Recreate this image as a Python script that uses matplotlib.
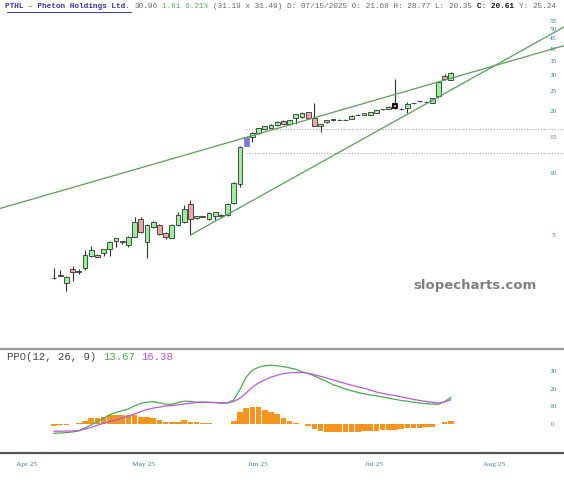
import matplotlib
matplotlib.use("Agg")
import matplotlib.pyplot as plt
import numpy as np

# --- price data (daily candles) ---
opens = [3.10, 3.20, 2.92, 3.42, 3.34, 3.46, 3.97, 4.00, 4.08, 4.28,
         4.70, 4.66, 4.50, 4.92, 6.00, 4.62, 5.45, 5.62, 5.10, 4.85,
         5.62, 5.79, 7.10, 6.04, 6.15, 6.00, 6.20, 6.25, 6.28, 7.17,
         8.90, 13.6, 14.9, 15.7, 16.3, 16.6, 17.1, 17.9, 17.4, 18.5,
         18.7, 19.7, 18.5, 16.9, 17.7, 18.0, 18.1, 18.1, 18.3, 19.2,
         19.2, 19.2, 19.6, 20.4, 20.5, 21.68, 20.5, 20.6, 21.8, 22.3,
         22.2, 22.0, 23.6, 29.6, 28.4]
highs = [3.45, 3.40, 3.18, 3.55, 3.42, 4.22, 4.42, 4.05, 4.30, 4.70,
         4.85, 4.68, 4.95, 6.13, 6.13, 5.65, 5.85, 5.65, 5.15, 5.65,
         6.50, 6.97, 7.44, 6.20, 6.22, 6.45, 6.50, 6.30, 7.15, 9.05,
         13.5, 14.9, 15.8, 16.6, 17.0, 17.3, 17.8, 18.0, 18.1, 19.4,
         19.7, 19.8, 21.9, 17.4, 18.1, 18.4, 18.2, 18.2, 19.1, 19.3,
         19.6, 19.8, 20.3, 20.5, 21.1, 28.77, 20.7, 22.2, 22.0, 22.4,
         22.3, 23.2, 27.8, 30.3, 31.0]
lows = [3.05, 3.15, 2.69, 3.00, 3.24, 3.40, 3.93, 3.90, 3.95, 3.95,
        4.36, 4.55, 4.40, 4.90, 5.10, 3.89, 5.40, 5.00, 4.77, 4.82,
        5.55, 5.75, 5.00, 6.00, 6.10, 5.95, 5.90, 6.15, 6.20, 7.10,
        8.60, 13.5, 14.2, 15.5, 16.2, 16.5, 17.0, 17.3, 17.2, 17.3,
        18.6, 18.5, 16.9, 15.9, 17.5, 17.9, 18.0, 18.0, 18.2, 19.1,
        19.1, 19.1, 19.5, 20.3, 20.4, 20.35, 20.3, 19.5, 21.6, 22.2,
        22.1, 21.9, 23.2, 28.3, 28.2]
closes = [3.08, 3.18, 3.12, 3.30, 3.32, 4.02, 4.23, 3.93, 4.27, 4.65,
          4.82, 4.62, 4.92, 5.81, 5.17, 5.60, 5.79, 5.05, 4.90, 5.62,
          6.25, 6.72, 6.00, 6.17, 6.18, 6.40, 6.45, 6.22, 7.10, 9.00,
          13.4, 14.9, 15.7, 16.5, 16.9, 17.2, 17.7, 17.4, 18.0, 19.3,
          19.6, 18.6, 17.0, 17.3, 18.0, 18.3, 18.1, 18.1, 19.0, 19.2,
          19.5, 19.7, 20.2, 20.4, 21.0, 20.61, 20.4, 21.6, 21.8, 22.3,
          22.2, 23.1, 27.7, 28.6, 30.5]

# --- PPO(12, 26, 9) ---
ppo_line = [-5.6, -5.4, -5.2, -4.8, -4.2, -2.5, -0.8, 1.2, 3.0, 5.0,
            6.4, 7.3, 8.3, 10.2, 11.5, 12.2, 12.5, 11.8, 11.0, 11.0,
            12.0, 12.8, 12.6, 12.2, 12.2, 12.1, 12.0, 11.5, 11.8, 13.5,
            19.5, 26.5, 30.5, 32.2, 33.0, 33.3, 33.0, 32.5, 31.8, 31.0,
            29.6, 28.6, 27.2, 25.6, 24.0, 22.2, 21.0, 19.8, 18.7, 17.8,
            17.0, 16.3, 15.8, 15.2, 14.5, 13.8, 13.2, 12.7, 12.2, 11.8,
            11.4, 11.1, 11.0, 12.5, 14.9]
signal_line = [-4.4, -4.4, -4.3, -4.2, -4.0, -3.2, -2.2, -1.0, 0.2, 1.2,
               2.0, 3.2, 4.2, 5.5, 6.8, 8.0, 8.8, 9.4, 10.0, 10.3,
               10.7, 11.2, 11.6, 12.0, 12.2, 12.1, 12.0, 11.8, 11.8, 12.6,
               14.5, 17.5, 20.8, 23.2, 25.0, 26.5, 27.6, 28.5, 29.0, 29.2,
               29.2, 28.7, 27.9, 27.0, 26.0, 24.9, 23.9, 22.9, 21.9, 21.0,
               20.2, 19.2, 18.0, 17.2, 16.5, 16.0, 15.2, 14.5, 13.8, 13.2,
               12.6, 12.1, 11.7, 12.4, 13.6]
ppo_hist = [-1.5, -1.0, -0.9, -0.4, 0.2, 1.7, 2.9, 3.2, 3.8, 4.6,
            4.8, 4.6, 4.8, 4.6, 3.8, 3.8, 3.2, 1.9, 0.8, 0.8,
            1.1, 1.9, 1.1, 0.8, 0.4, 0.1, -0.2, -0.4, -0.2, 1.6,
            6.4, 8.8, 9.7, 9.2, 7.9, 6.6, 5.2, 3.1, 1.6, 0.5,
            -0.3, -1.4, -3.1, -4.1, -4.7, -5.0, -5.0, -5.0, -4.9, -4.7,
            -4.5, -4.3, -4.1, -3.9, -3.7, -3.5, -3.1, -2.8, -2.6, -2.4,
            -2.2, -1.9, -0.1, 0.6, 1.2]

# --- annotations ---
trend_a = [(31, 14.9), (62, 27.7)]   # upper channel line
trend_b = [(22, 5.0), (62, 23.4)]    # rising support line
levels = [16.3, 12.47]
level_start = 31
blue_bar = 31
hover_bar = 55

month_labels = ["Apr 25", "May 25", "Jun 25", "Jul 25", "Aug 25"]
month_pos = [-4.5, 14.5, 32.9, 51.6, 71.0]
price_ticks = [5, 10, 15, 20, 25, 30, 35, 40, 45, 50, 55]
ppo_ticks = [0, 10, 20, 30]

TICK_COLOR = "#3f7aa8"
GREEN = "#98f098"
RED = "#f4a4a4"
LINE_GREEN = "#5a9e5a"

W, H = 564, 480
fig = plt.figure(figsize=(W / 100, H / 100), dpi=100)
fig.patch.set_facecolor("white")

XMIN, XMAX = -8.71, 82.26


def frac_y(py):
    return 1 - py / H


ax = fig.add_axes([0, frac_y(348), 1, (348 - 15) / H])
ax2 = fig.add_axes([0, frac_y(451), 1, (451 - 349) / H])

n = len(closes)
x = np.arange(n)
o = np.array(opens)
c = np.array(closes)
hi = np.array(highs)
lo = np.array(lows)

# wicks
ax.vlines(x, lo, hi, color="#333333", linewidth=0.8, zorder=2)
# bodies
colors = [GREEN if cc >= oo else RED for oo, cc in zip(o, c)]
colors[blue_bar] = "#7c7cd8"
bottoms = np.minimum(o, c)
heights = np.maximum(np.abs(c - o), 0.0001 * c)
edges = ["#333333"] * n
edges[blue_bar] = "#7c7cd8"
lws = [0.6] * n
lws[hover_bar] = 1.3
edges[hover_bar] = "#000000"
ax.bar(x, heights, bottom=bottoms, width=0.8, color=colors,
       edgecolor=edges, linewidth=lws, zorder=3)

# trend lines
ax.axline(trend_a[0], trend_a[1], color=LINE_GREEN, linewidth=0.9, zorder=4)
(xb0, yb0), (xb1, yb1) = trend_b
slope_b = (np.log(yb1) - np.log(yb0)) / (xb1 - xb0)
xb_end = XMAX + 2
ax.plot([xb0, xb_end], [yb0, yb0 * np.exp(slope_b * (xb_end - xb0))],
        color=LINE_GREEN, linewidth=0.9, zorder=4)

# support levels
for lvl in levels:
    ax.hlines(lvl, level_start, XMAX, colors="#aaaaaa", linestyles=(0, (1, 1.5)),
              linewidth=0.8, zorder=1)

ax.set_yscale("log")
ax.set_ylim(1.416, 58.5)
ax.set_xlim(XMIN, XMAX)
ax.set_yticks(price_ticks)
ax.set_yticklabels([str(t) for t in price_ticks])
ax.yaxis.set_minor_locator(matplotlib.ticker.NullLocator())
ax.yaxis.tick_right()
ax.tick_params(axis="y", length=0, pad=-7.9, labelsize=5.4, labelcolor=TICK_COLOR)
for lab in ax.get_yticklabels():
    lab.set_horizontalalignment("center")
    lab.set_fontfamily("Liberation Serif")
ax.set_xticks([])
for sp in ax.spines.values():
    sp.set_visible(False)

ax.text(0.842, 1 - (286 - 15) / (348 - 15), "slopecharts.com", transform=ax.transAxes,
        ha="center", va="center", fontsize=9.5, fontweight="bold", color="#808080")

# --- PPO panel ---
ax2.bar(x, ppo_hist, width=0.9, color="#f7941d", zorder=2)
ax2.plot(x, ppo_line, color="#4caa4c", linewidth=0.9, zorder=3)
ax2.plot(x, signal_line, color="#b45ad6", linewidth=0.9, zorder=3)
ax2.set_xlim(XMIN, XMAX)
ax2.set_ylim(-15.7, 42.6)
ax2.set_yticks(ppo_ticks)
ax2.set_yticklabels([str(t) for t in ppo_ticks])
ax2.yaxis.tick_right()
ax2.tick_params(axis="y", length=0, pad=-7.9, labelsize=5.4, labelcolor=TICK_COLOR)
for lab in ax2.get_yticklabels():
    lab.set_horizontalalignment("center")
    lab.set_fontfamily("Liberation Serif")
ax2.set_xticks(month_pos)
ax2.set_xticklabels(month_labels)
ax2.tick_params(axis="x", length=0, pad=8, labelsize=5.4, labelcolor=TICK_COLOR)
for lab in ax2.get_xticklabels():
    lab.set_fontfamily("Liberation Serif")
for sp in ax2.spines.values():
    sp.set_visible(False)

# panel separators
fig.add_artist(plt.Line2D([0, 1], [frac_y(349), frac_y(349)], color="#999999", linewidth=1.6))
fig.add_artist(plt.Line2D([0, 1], [frac_y(452.5), frac_y(452.5)], color="#555555", linewidth=1.6))


# --- header text (monospace, positioned by character) ---
def put(col, text, color, bold=False, y=7, x0=5, cw=4.63, size=5.6):
    fig.text((x0 + col * cw) / W, frac_y(y), text, color=color,
             fontweight="bold" if bold else "normal",
             family="Liberation Mono", fontsize=size, va="center")


put(0, "PTHL - Pheton Holdings Ltd.", "#3535b0", bold=True)
fig.add_artist(plt.Line2D([7 / W, 131 / W], [frac_y(11.5), frac_y(11.5)], color="#3535b0", linewidth=0.7))
put(28, "30.96", "#666666")
put(34, "1.81 6.21%", "#5aaa5a")
put(45, "(31.19 x 31.49) D: 07/15/2025 O: 21.68 H: 28.77 L: 20.35", "#666666")
put(102, "C: 20.61", "#111111", bold=True)
put(111, "Y: 25.24", "#666666")

# PPO legend line
put(0, "PPO(12, 26, 9)", "#444444", y=357, x0=7, cw=6.4, size=7.7)
put(15, "13.67", "#4caa4c", y=357, x0=7, cw=6.4, size=7.7)
put(21, "16.38", "#b45ad6", y=357, x0=7, cw=6.4, size=7.7)

fig.savefig("out.png", dpi=100)
